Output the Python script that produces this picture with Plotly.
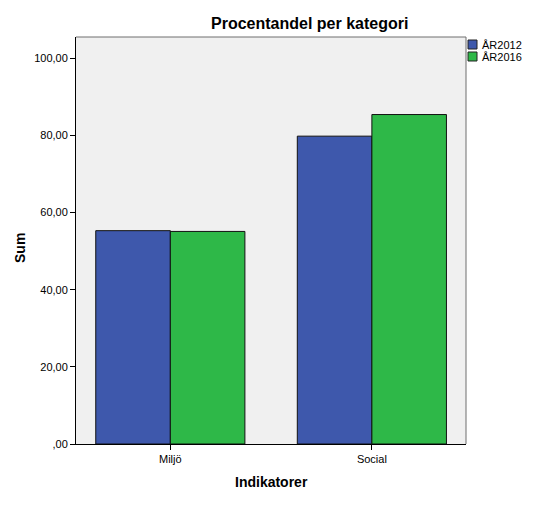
import plotly.graph_objects as go

categories = ["Miljö", "Social"]
series_names = ["ÅR2012", "ÅR2016"]
series_colors = ["#3E58AC", "#2EB848"]
values_2012 = [55.3, 79.8]
values_2016 = [55.1, 85.4]
tick_vals = [0, 20, 40, 60, 80, 100]
tick_text = [",00", "20,00", "40,00", "60,00", "80,00", "100,00"]

FONT = "Liberation Sans, Arial, sans-serif"
OFF = 8                      # page body margin in the browser
WIN_W, WIN_H = 540, 515
W, H = WIN_W - OFF, WIN_H - OFF
# plot area in window pixels
PL, PR, PT, PB = 76, 466, 37, 444
ML, MR, MT, MB = PL - OFF, WIN_W - PR, PT - OFF, WIN_H - PB
PW, PH = PR - PL, PB - PT


def fx(x):  # window px -> paper x
    return (x - PL) / PW


def fy(y):  # window px -> paper y
    return (PB - y) / PH


fig = go.Figure()
for name, vals, col in zip(series_names, [values_2012, values_2016], series_colors):
    fig.add_trace(go.Bar(x=categories, y=vals, name=name, showlegend=False,
                         marker=dict(color=col, line=dict(color="#111111", width=1))))

shapes = [
    # top and right frame in grey
    dict(type="line", xref="paper", yref="paper", x0=0, x1=1, y0=1, y1=1,
         line=dict(color="#6E6E6E", width=1)),
    dict(type="line", xref="paper", yref="paper", x0=1, x1=1, y0=0, y1=1,
         line=dict(color="#6E6E6E", width=1)),
]
annotations = []
for i, (name, col) in enumerate(zip(series_names, series_colors)):
    y0 = 40 + i * 12
    shapes.append(dict(type="rect", xref="paper", yref="paper",
                       x0=fx(468), x1=fx(477), y0=fy(y0 + 9), y1=fy(y0),
                       fillcolor=col, line=dict(color="#222222", width=1)))
    annotations.append(dict(text=name, xref="paper", yref="paper",
                            x=fx(480), xanchor="left", y=fy(y0 + 4.5), yanchor="middle",
                            showarrow=False, font=dict(size=11, family=FONT, color="black")))

annotations.append(dict(text="<b>Sum</b>", xref="paper", yref="paper",
                        x=fx(20), y=fy(248), xanchor="center", yanchor="middle",
                        textangle=-90, showarrow=False,
                        font=dict(size=14, family=FONT, color="black")))
annotations.append(dict(text="<b>Indikatorer</b>", xref="paper", yref="paper",
                        x=fx(271), y=fy(482), xanchor="center", yanchor="middle",
                        showarrow=False, font=dict(size=14, family=FONT, color="black")))
annotations.append(dict(text="<b>Procentandel per kategori</b>", xref="paper", yref="paper",
                        x=fx(309.5), y=fy(23), xanchor="center", yanchor="middle",
                        showarrow=False, font=dict(size=16, family=FONT, color="black")))

fig.update_layout(
    width=W, height=H,
    margin=dict(l=ML, r=MR, t=MT, b=MB, pad=0),
    paper_bgcolor="white",
    plot_bgcolor="#F0F0F0",
    barmode="group",
    bargap=0.26,
    bargroupgap=0,
    font=dict(family=FONT, size=11, color="black"),
    showlegend=False,
    shapes=shapes,
    annotations=annotations,
)
fig.update_xaxes(
    range=[-0.468, 1.467], showgrid=False, showline=True, linecolor="black", linewidth=1,
    mirror=False, ticks="outside", ticklen=5, tickcolor="black", automargin=False,
    tickfont=dict(size=11),
)
fig.update_yaxes(
    range=[0, 105.5], showgrid=False, showline=True, linecolor="black", linewidth=1,
    mirror=False, ticks="outside", ticklen=5, tickcolor="black", automargin=False,
    tickvals=tick_vals, ticktext=tick_text, tickfont=dict(size=11), zeroline=False,
)

fig.write_html("out.html")
